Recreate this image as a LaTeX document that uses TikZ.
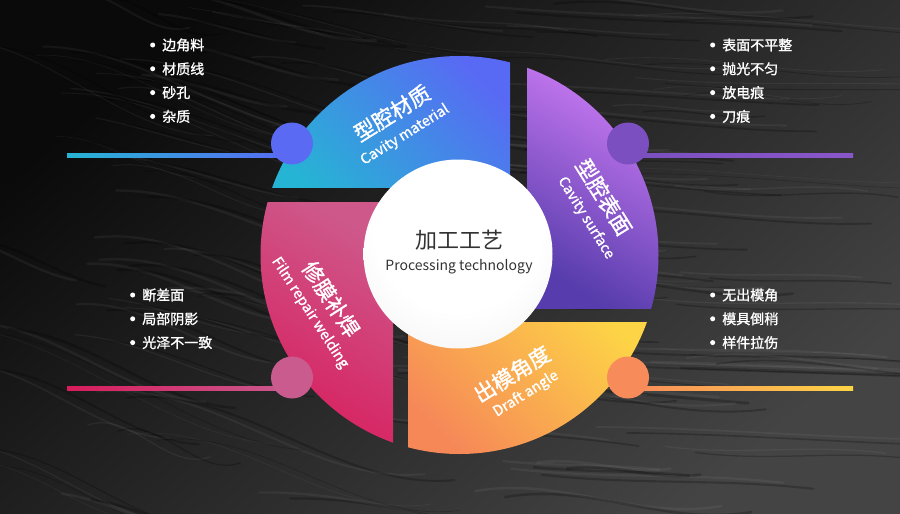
\documentclass[tikz,border=0pt]{standalone}
\usepackage{fontspec}
\setmainfont{Noto Sans CJK SC}
\newfontfamily\medfont[FakeBold=1.2]{Noto Sans CJK SC}
\usetikzlibrary{calc}

\pgfdeclareradialshading{hubshade}{\pgfpoint{0bp}{12bp}}{color(0bp)=(white); color(22bp)=(white); color(40bp)=(black!6); color(52bp)=(black!20)}

\tikzset{
	ball/.style={circle,minimum size=31.5pt,inner sep=0pt},
	listtext/.style={anchor=west,inner sep=0pt,text=white,font=\medfont\fontsize{10.5}{12}\selectfont},
	bigtext/.style={inner sep=0pt,text=white,font=\medfont\fontsize{16}{18}\selectfont},
	smalltext/.style={inner sep=0pt,text=white,font=\medfont\fontsize{10.8}{12}\selectfont},
	streak/.style={line width=#1,line cap=round},
}

\begin{document}
\begin{tikzpicture}[x=0.75pt,y=-0.75pt]
\definecolor{bgdark}{RGB}{10,10,10}
\definecolor{bglight}{RGB}{68,68,68}
\definecolor{cyanA}{RGB}{38,180,212}
\definecolor{blueB}{RGB}{88,106,244}
\definecolor{violetA}{RGB}{214,128,250}
\definecolor{violetB}{RGB}{86,60,172}
\definecolor{yellowA}{RGB}{253,212,70}
\definecolor{orangeB}{RGB}{246,136,88}
\definecolor{pinkA}{RGB}{206,88,138}
\definecolor{redB}{RGB}{216,28,92}
\definecolor{ballblue}{RGB}{91,106,242}
\definecolor{ballviolet}{RGB}{123,79,192}
\definecolor{ballpink}{RGB}{201,91,143}
\definecolor{ballorange}{RGB}{248,139,90}

	\useasboundingbox (0,0) rectangle (900,514);
	\shade[top color=bgdark,bottom color=bglight,shading angle=40] (0,0) rectangle (900,514);
	% grain of the stone
	\pgfmathsetseed{11}
	\foreach \k in {1,...,110}{
		\pgfmathsetmacro\ya{rnd*560-20}
		\pgfmathsetmacro\xa{rnd*760-60}
		\pgfmathsetmacro\len{120+rnd*260}
		\pgfmathsetmacro\bend{rnd*30-15}
		\pgfmathsetmacro\drop{\len*(0.03+0.3*(1-\xa/700)^2)}
		\pgfmathsetmacro\wd{0.4+rnd*1.8}
		\draw[streak=\wd pt,white,opacity=0.05] (\xa,\ya) .. controls (\xa+\len*0.35,\ya+\bend) and (\xa+\len*0.65,\ya+\drop-\bend) .. (\xa+\len,\ya+\drop);
		\draw[streak=\wd pt,black,opacity=0.22] (\xa+30,\ya+6) .. controls (\xa+30+\len*0.35,\ya+6+\bend) and (\xa+30+\len*0.65,\ya+6+\drop-\bend) .. (\xa+30+\len,\ya+6+\drop);
	}

	\coordinate (tlend) at (67,155);
	\coordinate (trend) at (853,155);
	\coordinate (blend) at (67,388);
	\coordinate (brend) at (853,388);
	\node[ball] (tlball) at (292,143.5) {};
	\node[ball] (trball) at (628,143.5) {};
	\node[ball] (blball) at (292,377.5) {};
	\node[ball] (brball) at (628,377.5) {};

	\shade[left color=cyanA,right color=blueB] ($(tlend)+(0,-2)$) rectangle ($(tlend -| tlball)+(0,2)$);
	\shade[left color=ballviolet,right color=ballviolet!85!violetA] ($(trend -| trball)+(0,-2)$) rectangle ($(trend)+(0,2)$);
	\shade[left color=redB,right color=ballpink] ($(blend)+(0,-2)$) rectangle ($(blend -| blball)+(0,2)$);
	\shade[left color=ballorange,right color=yellowA] ($(brend -| brball)+(0,-2)$) rectangle ($(brend)+(0,2)$);

	\begin{scope}
	\clip (459.5,255) circle (199);
	\shade[top color=blueB,bottom color=cyanA,shading angle=-45] (250,50) rectangle (510,187);
	\shade[top color=violetA,bottom color=violetB,shading angle=-30] (527,50) rectangle (670,308);
	\shade[top color=yellowA,bottom color=orangeB,shading angle=-45] (408,322) rectangle (670,460);
	\shade[top color=pinkA,bottom color=redB,shading angle=-30] (250,202) rectangle (393,460);
	\end{scope}

	\fill[ballblue] (tlball) circle (21);
	\fill[ballviolet] (trball) circle (21);
	\fill[ballpink] (blball) circle (21);
	\fill[ballorange] (brball) circle (21);

	\node[circle,minimum size=141.75pt,shading=hubshade] (hub) at (458,254) {};
	\node[inner sep=0pt,text=black!80,font=\fontsize{16.5}{20}\selectfont] (hubcn) at (459,240) {加工工艺};
	\node[inner sep=0pt,text=black!80,font=\fontsize{10.5}{12}\selectfont] (huben) at (459,267) {Processing technology};

	\node[bigtext,rotate=32] (tlcn) at (392,113) {型腔材质};
	\node[smalltext,rotate=32] (tlen) at (405,135) {Cavity material};
	\node[bigtext,rotate=-58] (trcn) at (604,197) {型腔表面};
	\node[smalltext,rotate=-58] (tren) at (586,218) {Cavity surface};
	\node[bigtext,rotate=32] (brcn) at (512,374) {出模角度};
	\node[smalltext,rotate=32] (bren) at (526,394) {Draft angle};
	\node[bigtext,rotate=-57] (blcn) at (331,299) {修膜补焊};
	\node[smalltext,rotate=-57] (blen) at (310,313) {Film repair welding};

	\foreach \txt [count=\i] in {边角料,材质线,砂孔,杂质}{
		\node[listtext] (tl\i) at (162,{45+23.8*(\i-1)}) {\txt};
		\fill[white] ([xshift=-7pt]tl\i.west) circle (2.5);
	}
	\foreach \txt [count=\i] in {表面不平整,抛光不匀,放电痕,刀痕}{
		\node[listtext] (tr\i) at (722,{45+23.8*(\i-1)}) {\txt};
		\fill[white] ([xshift=-7pt]tr\i.west) circle (2.5);
	}
	\foreach \txt [count=\i] in {断差面,局部阴影,光泽不一致}{
		\node[listtext] (bl\i) at (142,{295+23.8*(\i-1)}) {\txt};
		\fill[white] ([xshift=-7pt]bl\i.west) circle (2.5);
	}
	\foreach \txt [count=\i] in {无出模角,模具倒稍,样件拉伤}{
		\node[listtext] (br\i) at (722,{295+23.8*(\i-1)}) {\txt};
		\fill[white] ([xshift=-7pt]br\i.west) circle (2.5);
	}
\end{tikzpicture}
\end{document}
